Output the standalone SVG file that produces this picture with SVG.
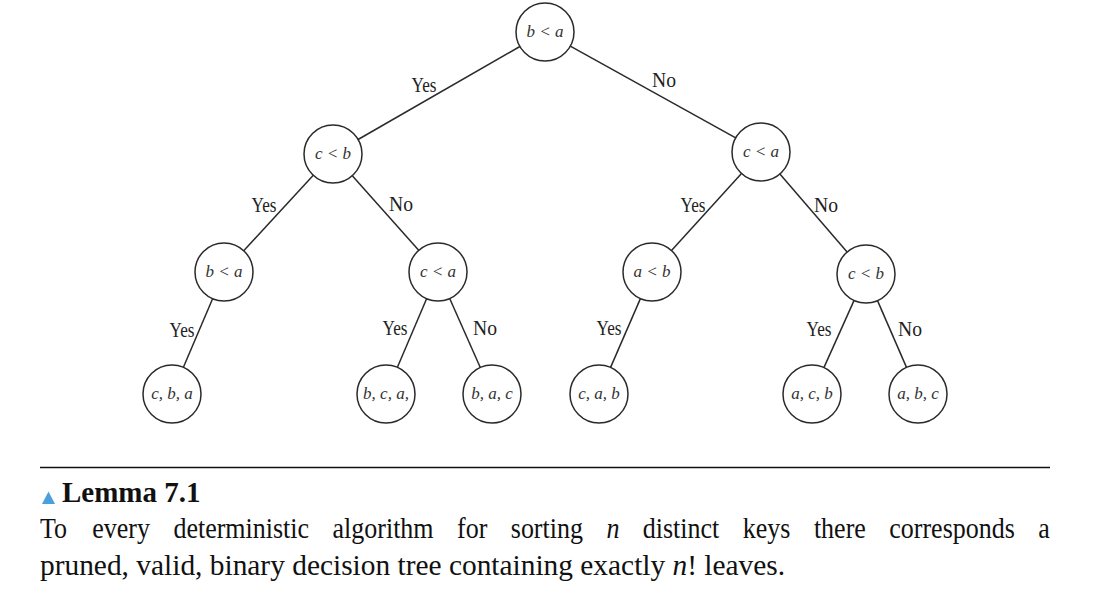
<svg xmlns="http://www.w3.org/2000/svg" width="1102" height="596" viewBox="0 0 1102 596">
<style>
.node circle{fill:#fff;stroke:#2a2a2a;stroke-width:1.5}
.node text{font-family:"Liberation Serif",serif;font-style:italic;font-size:17px;fill:#333;text-anchor:middle}
.edges line{stroke:#2a2a2a;stroke-width:1.5}
.lbl{font-family:"Liberation Serif",serif;font-size:20px;fill:#222;text-anchor:middle}
.para{font-family:"Liberation Serif",serif;font-size:29.4px;fill:#111}
</style>
<rect width="1102" height="596" fill="#fff"/>
<g id="connectors" class="edges">
<line x1="519.9" y1="46.5" x2="358.1" y2="139.5"/>
<line x1="570.3" y1="46.1" x2="735.7" y2="137.9"/>
<line x1="313.3" y1="175.3" x2="243.7" y2="250.7"/>
<line x1="352.3" y1="175.7" x2="418.7" y2="250.3"/>
<line x1="741.5" y1="173.5" x2="671.5" y2="250.5"/>
<line x1="779.9" y1="174" x2="847.1" y2="252"/>
<line x1="212.6" y1="298.7" x2="183.4" y2="367.3"/>
<line x1="426.6" y1="298.7" x2="397.4" y2="367.3"/>
<line x1="449.7" y1="298.5" x2="480.3" y2="367.5"/>
<line x1="640.4" y1="298.6" x2="610.6" y2="367.4"/>
<line x1="854.1" y1="300.4" x2="823.9" y2="367.6"/>
<line x1="877.5" y1="300.6" x2="906.5" y2="367.4"/>
<text class="lbl" x="424" y="92" textLength="25" lengthAdjust="spacingAndGlyphs">Yes</text>
<text class="lbl" x="664" y="87" textLength="24" lengthAdjust="spacingAndGlyphs">No</text>
<text class="lbl" x="264" y="212" textLength="25" lengthAdjust="spacingAndGlyphs">Yes</text>
<text class="lbl" x="401" y="211" textLength="24" lengthAdjust="spacingAndGlyphs">No</text>
<text class="lbl" x="693" y="212" textLength="25" lengthAdjust="spacingAndGlyphs">Yes</text>
<text class="lbl" x="826" y="212" textLength="24" lengthAdjust="spacingAndGlyphs">No</text>
<text class="lbl" x="182" y="337" textLength="25" lengthAdjust="spacingAndGlyphs">Yes</text>
<text class="lbl" x="395" y="335" textLength="25" lengthAdjust="spacingAndGlyphs">Yes</text>
<text class="lbl" x="485" y="335" textLength="24" lengthAdjust="spacingAndGlyphs">No</text>
<text class="lbl" x="609" y="335" textLength="25" lengthAdjust="spacingAndGlyphs">Yes</text>
<text class="lbl" x="819" y="336" textLength="25" lengthAdjust="spacingAndGlyphs">Yes</text>
<text class="lbl" x="910" y="336" textLength="24" lengthAdjust="spacingAndGlyphs">No</text>
</g>
<g id="n-root" class="node"><circle cx="545" cy="32" r="29"/><text x="545" y="37">b &lt; a</text></g>
<g id="n-cb1" class="node"><circle cx="333" cy="154" r="29"/><text x="333" y="159">c &lt; b</text></g>
<g id="n-ca1" class="node"><circle cx="761" cy="152" r="29"/><text x="761" y="157">c &lt; a</text></g>
<g id="n-ba2" class="node"><circle cx="224" cy="272" r="29"/><text x="224" y="277">b &lt; a</text></g>
<g id="n-ca2" class="node"><circle cx="438" cy="272" r="29"/><text x="438" y="277">c &lt; a</text></g>
<g id="n-ab2" class="node"><circle cx="652" cy="272" r="29"/><text x="652" y="277">a &lt; b</text></g>
<g id="n-cb2" class="node"><circle cx="866" cy="274" r="29"/><text x="866" y="279">c &lt; b</text></g>
<g id="l-cba" class="node"><circle cx="172" cy="394" r="29"/><text x="172" y="399">c, b, a</text></g>
<g id="l-bca" class="node"><circle cx="386" cy="394" r="29"/><text x="386" y="399">b, c, a,</text></g>
<g id="l-bac" class="node"><circle cx="492" cy="394" r="29"/><text x="492" y="399">b, a, c</text></g>
<g id="l-cab" class="node"><circle cx="599" cy="394" r="29"/><text x="599" y="399">c, a, b</text></g>
<g id="l-acb" class="node"><circle cx="812" cy="394" r="29"/><text x="812" y="399">a, c, b</text></g>
<g id="l-abc" class="node"><circle cx="918" cy="394" r="29"/><text x="918" y="399">a, b, c</text></g>
<line x1="40" y1="467.5" x2="1050" y2="467.5" stroke="#111" stroke-width="1.3"/>
<polygon points="42,504 48.5,491.5 55,504" fill="#4a9fdc"/>
<text x="62" y="502" font-family="Liberation Serif, serif" font-weight="bold" font-size="29" fill="#111">Lemma 7.1</text>
<g transform="translate(0,538) scale(0.884,1)">
<text class="para" y="0"><tspan x="45.2">To</tspan><tspan x="104.4">every</tspan><tspan x="196.2">deterministic</tspan><tspan x="376.2">algorithm</tspan><tspan x="517.1">for</tspan><tspan x="577.8">sorting</tspan><tspan x="686" font-style="italic">n</tspan><tspan x="727.1">distinct</tspan><tspan x="840.3">keys</tspan><tspan x="920.7">there</tspan><tspan x="1006">corresponds</tspan><tspan x="1174.5">a</tspan></text>
</g>
<text class="para" x="40" y="575">pruned, valid, binary decision tree containing exactly <tspan font-style="italic">n</tspan>! leaves.</text>
</svg>
